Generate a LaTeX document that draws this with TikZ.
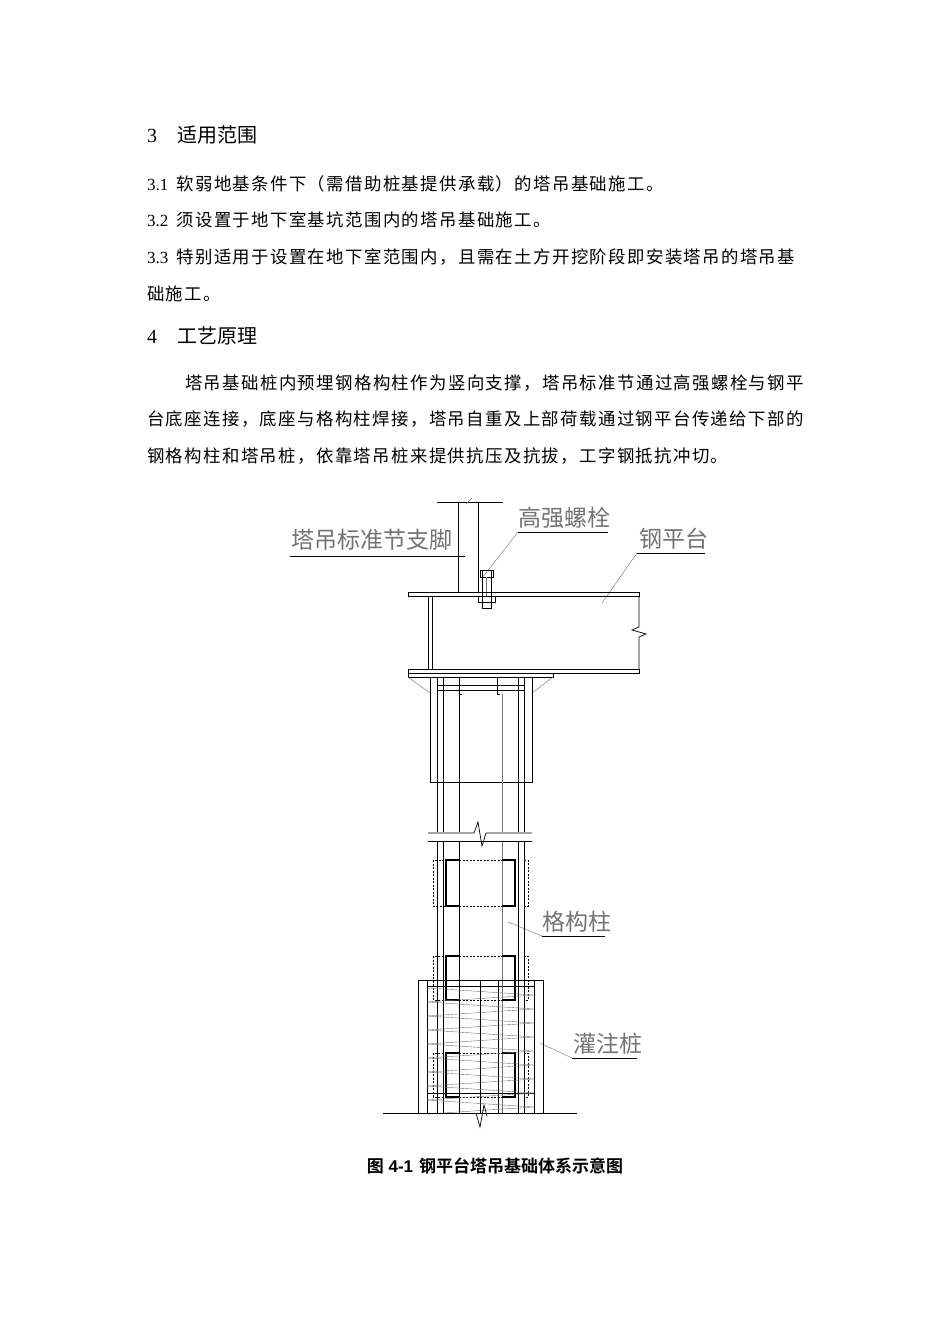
\documentclass[tikz,border=0pt]{standalone}
\usepackage{fontspec}
\setmainfont{Liberation Serif}
\newfontfamily\cjk{Noto Sans CJK SC}
\newfontfamily\cjkt{Noto Sans CJK SC}[LetterSpace=8]
\newfontfamily\cjkb{Noto Sans CJK SC}[BoldFont={Noto Sans CJK SC Bold}]
\newfontfamily\capf{Liberation Sans}
\begin{document}
\begin{tikzpicture}[x=1pt,y=-1pt,
  body/.style={anchor=west,inner sep=0pt,font=\fontsize{17}{17}\selectfont},
  lab/.style={inner sep=0pt,text=black!55,font=\cjk\fontsize{23}{23}\selectfont},
  ln/.style={line width=0.7pt},
  thin/.style={line width=0.4pt,black!55},
  thick/.style={line width=2.2pt},
  dsh/.style={line width=0.5pt,dash pattern=on 2pt off 1.5pt}]
\useasboundingbox (0,0) rectangle (950,1344);
\fill[white] (0,0) rectangle (950,1344);
% text
\node[body,font=\fontsize{20}{20}\selectfont] (h3) at (147,135) {3\hspace{20pt}{\cjk 适用范围}};
\node[body] (t31) at (147,184) {3.1\hspace{8pt}{\cjkt\fontsize{17.4}{17}\selectfont 软弱地基条件下（需借助桩基提供承载）的塔吊基础施工。}};
\node[body] (t32) at (147,220) {3.2\hspace{8pt}{\cjkt\fontsize{17.4}{17}\selectfont 须设置于地下室基坑范围内的塔吊基础施工。}};
\node[body] (t33) at (147,257) {3.3\hspace{8pt}{\cjkt\fontsize{17.4}{17}\selectfont 特别适用于设置在地下室范围内，且需在土方开挖阶段即安装塔吊的塔吊基}};
\node[body] (t33b) at (147,294) {\cjkt\fontsize{17.4}{17}\selectfont 础施工。};
\node[body,font=\fontsize{20}{20}\selectfont] (h4) at (147,336) {4\hspace{20pt}{\cjk 工艺原理}};
\node[body] (p1) at (185,383) {\cjkt\fontsize{17.4}{17}\selectfont 塔吊基础桩内预埋钢格构柱作为竖向支撑，塔吊标准节通过高强螺栓与钢平};
\node[body] (p2) at (147,419) {\cjkt\fontsize{17.4}{17}\selectfont 台底座连接，底座与格构柱焊接，塔吊自重及上部荷载通过钢平台传递给下部的};
\node[body] (p3) at (147,456) {\cjkt\fontsize{17.4}{17}\selectfont 钢格构柱和塔吊桩，依靠塔吊桩来提供抗压及抗拔，工字钢抵抗冲切。};
% labels
\node[lab,anchor=south west] (l1) at (291,551) {塔吊标准节支脚};
\node[lab,anchor=south west] (l2) at (518,529) {高强螺栓};
\node[lab,anchor=south west] (l3) at (639,550) {钢平台};
\node[lab,anchor=south west] (l4) at (542,933) {格构柱};
\node[lab,anchor=south west] (l5) at (573,1055) {灌注桩};
\coordinate (a1) at (290,556); \coordinate (a2) at (465,556);
\draw[ln] (a1) -- (a2);
\coordinate (b0) at (482,578); \coordinate (b1) at (518,532); \coordinate (b2) at (608,532);
\draw[thin] (b0) -- (b1); \draw[ln] (b1) -- (b2);
\coordinate (c0) at (602,603); \coordinate (c1) at (637,553); \coordinate (c2) at (705,553);
\draw[thin] (c0) -- (c1); \draw[ln] (c1) -- (c2);
\coordinate (d0) at (508,922); \coordinate (d1) at (542,936); \coordinate (d2) at (605,936);
\draw[thin] (d0) -- (d1); \draw[ln] (d1) -- (d2);
\coordinate (e0) at (540,1043); \coordinate (e1) at (572,1058); \coordinate (e2) at (637,1058);
\draw[thin] (e0) -- (e1); \draw[ln] (e1) -- (e2);
% support leg
\draw[ln] (437,502) -- (503,502);
\draw[ln] (458,502) -- (458,592) (478,502) -- (478,592);
\draw[thin] (466,504) -- (472,498);
% bolt
\draw[ln] (482,570) rectangle (491,608);
\draw[ln] (480,570) rectangle (493,577);
\draw[ln] (478,596) rectangle (495,602);
\draw[thin] (486,577) -- (486,596);
% beam
\draw[ln] (408,592) rectangle (639,596);
\draw[ln] (408,669) rectangle (639,673);
\draw[ln] (428,596) -- (428,669) (432,596) -- (432,669);
\draw[ln] (639,596) -- (639,627) -- (632,630) -- (646,634) -- (639,637) -- (639,669);
\draw[ln] (408,673) -- (408,677) -- (553,677) -- (553,673);
\draw[thin] (408,677) -- (430,693) (553,677) -- (532,693);
% sleeve
\draw[ln] (430,677) rectangle (532,782);
\draw[ln] (437,685) -- (524,685) (437,690) -- (524,690);
\draw[ln] (459,677) -- (459,694) -- (462,694) (497,677) -- (497,694) -- (500,694);
% column lines
\draw[ln] (437,677) -- (437,1113) (443,677) -- (443,1113) (459,694) -- (459,1113)
          (518,677) -- (518,1113) (524,677) -- (524,1113);
\draw[thin] (502,694) -- (502,1113);
% break
\draw[fill=white,draw=none] (428,832) rectangle (532,842);
\draw[ln] (428,833) -- (474,833) -- (478,822) -- (482,846) -- (486,833) -- (532,833);
\draw[ln] (428,841) -- (532,841);
% battens
\foreach \t/\b in {860/906,956/1000,1053/1097}{
  \draw[dsh] (433,\t) rectangle (445,\b);
  \draw[dsh] (524,\t) rectangle (528,\b);
  \draw[dsh] (459,\t) -- (502,\t) (459,\b) -- (502,\b);
  \draw[thick] (459,\t) -- (446,\t) -- (446,\b) -- (459,\b);
  \draw[thick] (502,\t) -- (515,\t) -- (515,\b) -- (502,\b);
}
% pile
\draw[ln] (418,1113) -- (418,980) -- (543,980) -- (543,1113);
\draw[ln] (427,980) -- (427,1113) (534,980) -- (534,1113);
\draw[ln] (480,980) -- (480,1113) (498,980) -- (498,1113);
\draw[ln] (427,986) -- (534,986) (427,1093) -- (534,1093);
\foreach \y in {988,1002,...,1106}{
  \draw[thin] (427,\y) -- (534,\y+7) -- (427,\y+14);
}
% ground
\draw[ln] (383,1113) -- (577,1113);
\draw[ln] (476,1113) -- (480,1127) -- (484,1105) -- (487,1116);
% caption
\node[inner sep=0pt] (cap) at (495,1166) {\capf\bfseries\fontsize{17}{17}\selectfont {\cjkb\bfseries 图} 4-1\hspace{6pt}{\cjkb\bfseries 钢平台塔吊基础体系示意图}};
\end{tikzpicture}
\end{document}
